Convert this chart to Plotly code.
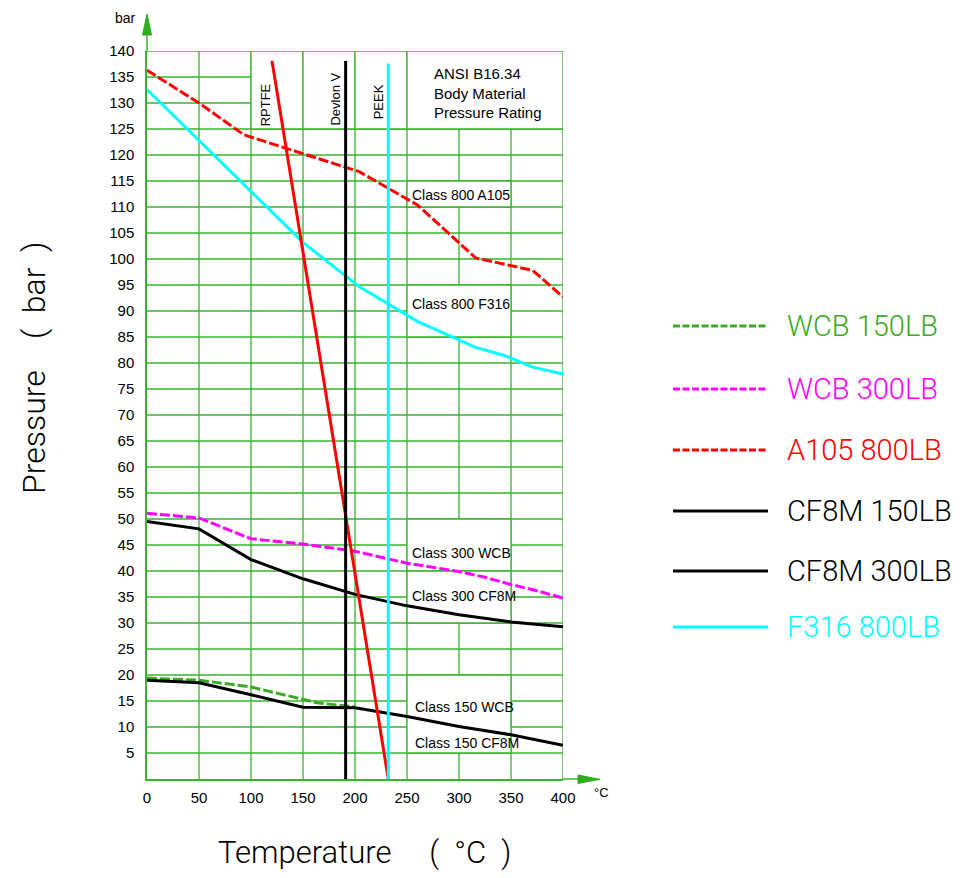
import plotly.graph_objects as go

# ---------------- data ----------------
temp_wcb150 = [0, 50, 100, 150, 165, 200]
p_wcb150 = [19.4, 19.0, 17.7, 15.3, 14.6, 13.9]

temp_wcb300 = [0, 50, 100, 150, 200, 250, 300, 325, 350, 375, 400]
p_wcb300 = [51.1, 50.2, 46.2, 45.2, 43.8, 41.5, 39.9, 38.8, 37.4, 36.2, 34.8]

temp_a105 = [0, 50, 93, 204, 260, 316, 371, 400]
p_a105 = [136.3, 130.0, 123.9, 116.8, 110.4, 100.2, 97.8, 92.7]

temp_cf8m150 = [0, 50, 100, 150, 200, 250, 300, 350, 400]
p_cf8m150 = [19.0, 18.5, 16.2, 13.8, 13.7, 12.0, 10.1, 8.5, 6.5]

temp_cf8m300 = [0, 50, 100, 150, 200, 250, 300, 350, 400]
p_cf8m300 = [49.5, 48.1, 42.2, 38.5, 35.5, 33.3, 31.6, 30.2, 29.3]

temp_f316 = [0, 50, 100, 150, 204, 260, 316, 343, 371, 400]
p_f316 = [132.6, 122.8, 113.0, 103.2, 94.7, 88.0, 83.0, 81.5, 79.2, 77.9]

# seat material temperature limits
temp_rptfe = [120.2, 232]
p_rptfe = [138.1, 0]
temp_devlon = [191, 191]
p_devlon = [0, 138.1]
temp_peek = [232, 232]
p_peek = [0, 137.6]

x_ticks = list(range(0, 401, 50))
y_ticks = list(range(5, 141, 5))
grid_x = list(range(50, 401, 50))
grid_y = list(range(5, 141, 5))

legend_names = ["WCB 150LB", "WCB 300LB", "A105 800LB",
                "CF8M 150LB", "CF8M 300LB", "F316 800LB"]

# ---------------- styling ----------------
OFF = 8                      # page body margin
W_PX, H_PX = 969 - OFF, 878 - OFF
L, R, T, B = 147, 563, 51, 779   # plot area in window pixels
PW, PH = R - L, B - T
GRID = "#36b42a"
GREEN = "#3aaa22"
MAG = "#ff00ff"
RED = "#ff0000"
CYAN = "#00ffff"
BLK = "#000000"
NARROW = "Liberation Sans, Arial, sans-serif"
THIN = "Roboto, Liberation Sans, sans-serif"
NB = "\u00a0"


def pxx(x):
    return (x - L) / PW


def pxy(y):
    return (B - y) / PH


fig = go.Figure()

series = [
    (temp_wcb150, p_wcb150, GREEN, "10px,3px"),
    (temp_wcb300, p_wcb300, MAG, "10px,3px"),
    (temp_a105, p_a105, RED, "10px,3px"),
    (temp_cf8m150, p_cf8m150, BLK, "solid"),
    (temp_cf8m300, p_cf8m300, BLK, "solid"),
    (temp_f316, p_f316, CYAN, "solid"),
]
for xs, ys, col, dash in series:
    fig.add_trace(go.Scatter(x=xs, y=ys, mode="lines",
                             line=dict(color=col, width=3, dash=dash),
                             hoverinfo="skip"))

for xs, ys, col in [(temp_rptfe, p_rptfe, RED), (temp_devlon, p_devlon, BLK),
                    (temp_peek, p_peek, CYAN)]:
    fig.add_trace(go.Scatter(x=xs, y=ys, mode="lines",
                             line=dict(color=col, width=3), hoverinfo="skip"))

shapes = []
# grid
for gx in grid_x:
    shapes.append(dict(type="line", xref="x", yref="y", x0=gx, x1=gx, y0=0, y1=140,
                       line=dict(color=GRID, width=1.3), layer="below"))
for gy in grid_y:
    shapes.append(dict(type="line", xref="x", yref="y", x0=0, x1=400, y0=gy, y1=gy,
                       line=dict(color=GRID, width=1.3), layer="below"))
# blank (white) grid cells, bordered
blank_cells = [(100, 150, 125, 140), (150, 200, 125, 140), (200, 250, 125, 140),
               (250, 400, 125, 140), (250, 350, 110, 115), (250, 350, 85, 95),
               (250, 350, 40, 50), (250, 350, 30, 40), (250, 350, 5, 20)]
for x0, x1, y0, y1 in blank_cells:
    shapes.append(dict(type="rect", xref="x", yref="y", x0=x0, x1=x1, y0=y0, y1=y1,
                       fillcolor="white", line=dict(color=GRID, width=1.3),
                       layer="below"))

# axis arrows
ARW = "#2fae1f"
shapes.append(dict(type="line", xref="paper", yref="paper", x0=0, x1=0,
                   y0=1, y1=pxy(33), line=dict(color=GRID, width=1.5)))
shapes.append(dict(type="path", xref="paper", yref="paper",
                   path=f"M {pxx(142.5)},{pxy(35)} L {pxx(151.5)},{pxy(35)} L {pxx(147)},{pxy(14)} Z",
                   fillcolor=ARW, line=dict(color=ARW, width=1)))
shapes.append(dict(type="line", xref="paper", yref="paper", x0=1, x1=pxx(580),
                   y0=0, y1=0, line=dict(color=GRID, width=1.5)))
shapes.append(dict(type="path", xref="paper", yref="paper",
                   path=f"M {pxx(578)},{pxy(775)} L {pxx(578)},{pxy(783.5)} L {pxx(600)},{pxy(779.3)} Z",
                   fillcolor=ARW, line=dict(color=ARW, width=1)))

# legend
leg_y = [326, 389, 450, 511, 571, 627]
leg_cols = [GREEN, MAG, RED, BLK, BLK, CYAN]
leg_dash = ["7px,2.5px", "7px,2.5px", "7px,2.5px", "solid", "solid", "solid"]
annotations = []
for name, yy, col, dsh in zip(legend_names, leg_y, leg_cols, leg_dash):
    shapes.append(dict(type="line", xref="paper", yref="paper", x0=pxx(673), x1=pxx(768),
                       y0=pxy(yy), y1=pxy(yy), line=dict(color=col, width=3, dash=dsh)))
    annotations.append(dict(xref="paper", yref="paper", x=pxx(785), y=pxy(yy), text=name,
                            showarrow=False, xanchor="left", yanchor="middle",
                            font=dict(family=THIN, size=29, color=col, weight=300)))

# in-plot labels
for txt, xx, yy in [("Class 800 A105", 253, 112.4),
                    ("Class 800 F316", 253, 91.4),
                    ("Class 300 WCB", 253, 43.5),
                    ("Class 300 CF8M", 253, 35.1),
                    ("Class 150 WCB", 256, 13.9),
                    ("Class 150 CF8M", 256, 6.9)]:
    annotations.append(dict(x=xx, y=yy, xref="x", yref="y", text=txt, showarrow=False,
                            xanchor="left", yanchor="middle",
                            font=dict(family=NARROW, size=14, color=BLK)))

for txt, yy in [("ANSI B16.34", 73), ("Body Material", 93),
                ("Pressure Rating", 112)]:
    annotations.append(dict(xref="paper", yref="paper", x=pxx(432), y=pxy(yy), text=txt,
                            showarrow=False, xanchor="left", yanchor="middle",
                            font=dict(family=NARROW, size=15, color=BLK)))

for txt, xx, yy in [("RPTFE", 113.7, 129.6), ("Devlon V", 181.5, 130.8),
                    ("PEEK", 223.4, 130.2)]:
    annotations.append(dict(x=xx, y=yy, xref="x", yref="y", text=txt, showarrow=False,
                            textangle=-90, xanchor="center", yanchor="middle",
                            font=dict(family=NARROW, size=13, color=BLK)))

# axis titles and units
annotations.append(dict(xref="paper", yref="paper", x=pxx(34), y=pxy(368),
                        text="Pressure" + NB * 4 + "(" + NB * 2 + "bar" + NB * 2 + ")",
                        textangle=-90, showarrow=False, xanchor="center", yanchor="middle",
                        font=dict(family=THIN, size=32, color=BLK, weight=300)))
annotations.append(dict(xref="paper", yref="paper", x=pxx(364), y=pxy(852),
                        text="Temperature" + NB * 5 + "(" + NB * 2 + "\u00b0C" + NB * 2 + ")",
                        showarrow=False, xanchor="center", yanchor="middle",
                        font=dict(family=THIN, size=31, color=BLK, weight=300)))
annotations.append(dict(xref="paper", yref="paper", x=pxx(125), y=pxy(18), text="bar",
                        showarrow=False, xanchor="center", yanchor="middle",
                        font=dict(family=NARROW, size=14, color=BLK)))
annotations.append(dict(xref="paper", yref="paper", x=pxx(601), y=pxy(792), text="\u00b0C",
                        showarrow=False, xanchor="center", yanchor="middle",
                        font=dict(family=NARROW, size=13, color=BLK)))

fig.update_layout(
    width=W_PX, height=H_PX,
    margin=dict(l=L - OFF, r=W_PX - (R - OFF), t=T - OFF, b=H_PX - (B - OFF), pad=0),
    paper_bgcolor="white", plot_bgcolor="white",
    showlegend=False,
    shapes=shapes, annotations=annotations,
    xaxis=dict(range=[0, 400], tickvals=x_ticks, ticktext=[str(v) for v in x_ticks],
               showgrid=False, zeroline=False,
               showline=True, linecolor=GRID, linewidth=1.5, ticks="",
               ticklabelstandoff=4,
               tickfont=dict(family=NARROW, size=15, color=BLK)),
    yaxis=dict(range=[0, 140], tickvals=y_ticks, ticktext=[str(v) for v in y_ticks],
               showgrid=False, zeroline=False,
               showline=True, linecolor=GRID, linewidth=1.5, ticks="",
               ticklabelstandoff=8,
               tickfont=dict(family=NARROW, size=15, color=BLK)),
)

fig.write_html("out.html")
